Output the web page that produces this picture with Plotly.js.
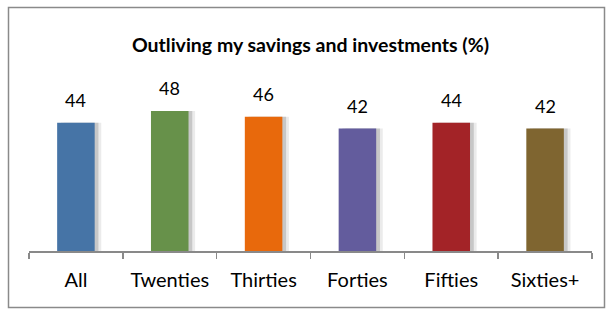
<!DOCTYPE html>
<html>
<head>
<meta charset="utf-8">
<script src="https://cdn.plot.ly/plotly-3.0.1.min.js"></script>
<style>
html,body{margin:0;padding:0;background:#fff;}
#chart{width:612px;height:309px;}
</style>
</head>
<body>
<div id="chart"></div>
<script>
const categories = ["All", "Twenties", "Thirties", "Forties", "Fifties", "Sixties+"];
const values = [44, 48, 46, 42, 44, 42];
const barColors = ["#4674A6", "#67914A", "#E8690C", "#635C9D", "#A32327", "#7F6530"];
const chartTitle = "Outliving my savings and investments (%)";

const FONT = "Lato, 'Open Sans', sans-serif";
const BW = 0.4;

const shadowOuter = {
  type: "bar", x: categories, y: values, base: 0,
  width: BW, offset: -BW/2 + 0.07,
  marker: {color: "rgba(120,120,120,0.15)", line: {width: 0}},
  hoverinfo: "skip", showlegend: false
};
const shadowInner = {
  type: "bar", x: categories, y: values,
  width: BW, offset: -BW/2 + 0.04,
  marker: {color: "rgba(90,90,90,0.25)", line: {width: 0}},
  hoverinfo: "skip", showlegend: false
};
const bars = {
  type: "bar", x: categories, y: values,
  width: BW, offset: -BW/2,
  marker: {color: barColors, line: {width: 0}},
  showlegend: false
};

const annotations = categories.map((c, i) => ({
  x: c, y: values[i], xref: "x", yref: "y",
  text: String(values[i]), showarrow: false,
  yanchor: "middle", yshift: 23,
  font: {family: FONT, size: 18, color: "#000"}
}));

const layout = {
  width: 612, height: 309,
  margin: {l: 29, r: 20, t: 76, b: 58},
  paper_bgcolor: "#fff", plot_bgcolor: "#fff",
  barmode: "overlay",
  title: {
    text: "<b>" + chartTitle + "</b>",
    xref: "paper", x: 0.5, xanchor: "center",
    yref: "container", y: 1 - 45/309, yanchor: "middle",
    font: {family: FONT, size: 19.5, color: "#000"}
  },
  xaxis: {
    type: "category",
    showline: true, linecolor: "#898989", linewidth: 1.5,
    ticks: "outside", tickson: "boundaries", ticklen: 6, tickcolor: "#898989", tickwidth: 1.5,
    tickfont: {family: FONT, size: 20, color: "#000"},
    ticklabelstandoff: 10,
    showgrid: false, zeroline: false, fixedrange: true
  },
  yaxis: {
    range: [0, 60], visible: false, showgrid: false, zeroline: false, fixedrange: true
  },
  annotations: annotations,
  shapes: [{
    type: "rect", xref: "paper", yref: "paper",
    x0: (8.5 - 29) / 563, x1: (604.5 - 29) / 563,
    y0: (251 - 307.5) / 175, y1: (251 - 7.5) / 175,
    line: {color: "#8A8A8A", width: 1.5}, fillcolor: "rgba(0,0,0,0)", layer: "below"
  }]
};

Plotly.newPlot("chart", [shadowOuter, shadowInner, bars], layout, {displayModeBar: false, staticPlot: true});
</script>
</body>
</html>
